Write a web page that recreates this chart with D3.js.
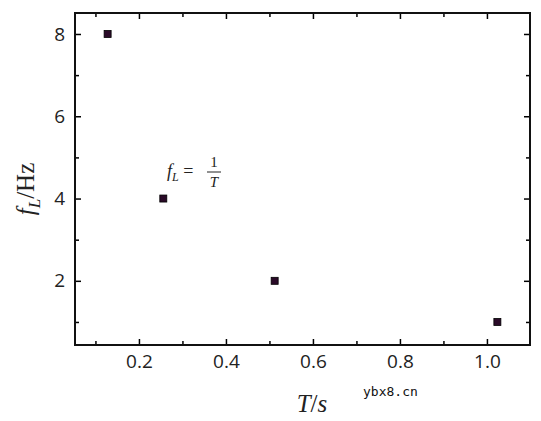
<!DOCTYPE html>
<html><head><meta charset="utf-8">
<script src="https://cdn.jsdelivr.net/npm/d3@7"></script>
<style>body{margin:0;background:#fff}</style>
</head><body>
<script>
// data
var periods = [0.128, 0.256, 0.512, 1.024];
var freqs = [8, 4, 2, 1];
var xTicks = [0.2, 0.4, 0.6, 0.8, 1.0];
var yTicks = [2, 4, 6, 8];
var xMinor = [0.1, 0.3, 0.5, 0.7, 0.9];
var yMinor = [1, 3, 5, 7];

var W = 541, H = 421;
var svg = d3.select("body").append("svg").attr("width", W).attr("height", H);
var pLeft = 75, pRight = 530, pTop = 13, pBottom = 345;

var x = d3.scaleLinear().domain([0.053, 1.099]).range([pLeft, pRight]);
var y = d3.scaleLinear().domain([0.44, 8.51]).range([pBottom, pTop]);

var tickFont = "'Open Sans', 'Noto Sans', sans-serif";

// axes with inward ticks
function axis(gen, ticks, fmt, tf, major) {
  var g = svg.append("g").attr("transform", tf).call(gen.tickValues(ticks).tickFormat(fmt)
    .tickSizeInner(major ? -6 : -4).tickSizeOuter(0).tickPadding(10));
  g.select(".domain").remove();
  g.selectAll("line").attr("stroke", "#000").attr("stroke-width", 1.5);
  g.selectAll("text").style("font-family", tickFont).style("font-size", "19px").attr("fill", "#222");
  return g;
}
axis(d3.axisBottom(x), xTicks, d3.format(".1f"), "translate(0," + pBottom + ")", true);
axis(d3.axisBottom(x), xMinor, "", "translate(0," + pBottom + ")", false);
axis(d3.axisTop(x), xTicks, "", "translate(0," + pTop + ")", true);
axis(d3.axisTop(x), xMinor, "", "translate(0," + pTop + ")", false);
axis(d3.axisLeft(y), yTicks, d3.format("d"), "translate(" + pLeft + ",0)", true);
axis(d3.axisLeft(y), yMinor, "", "translate(" + pLeft + ",0)", false);
axis(d3.axisRight(y), yTicks, "", "translate(" + pRight + ",0)", true);
axis(d3.axisRight(y), yMinor, "", "translate(" + pRight + ",0)", false);

svg.append("rect").attr("x", pLeft).attr("y", pTop).attr("width", pRight - pLeft).attr("height", pBottom - pTop)
  .attr("fill", "none").attr("stroke", "#111").attr("stroke-width", 2);

// fitted curve
var pts = periods.map(function(t, i){ return [t, freqs[i]]; });
svg.append("path").datum(pts)
  .attr("d", d3.line().x(function(d){ return x(d[0]); }).y(function(d){ return y(d[1]); }).curveMonotoneX)
  .attr("fill", "none").attr("stroke", "#8b0a7e").attr("stroke-width", 2.2);

svg.selectAll(".pt").data(pts).enter().append("rect")
  .attr("x", function(d){ return x(d[0]) - 3.5; })
  .attr("y", function(d){ return y(d[1]) - 3.5; })
  .attr("width", 7).attr("height", 7)
  .attr("fill", "#2a0a28").attr("stroke", "#000").attr("stroke-width", 0.8);

// formula
var serif = "'Liberation Serif', serif";
var ft = svg.append("text").attr("x", 167).attr("y", 177).style("font-family", serif).style("font-size", "18px").attr("fill", "#222");
ft.append("tspan").style("font-style", "italic").text("f");
ft.append("tspan").style("font-style", "italic").style("font-size", "12px").attr("dy", 4).text("L");
ft.append("tspan").attr("dy", -4).text(" = ");
svg.append("text").attr("x", 214).attr("y", 167).attr("text-anchor", "middle").style("font-family", serif).style("font-size", "15px").attr("fill", "#222").text("1");
svg.append("line").attr("x1", 207).attr("x2", 221).attr("y1", 172).attr("y2", 172).attr("stroke", "#222").attr("stroke-width", 1);
svg.append("text").attr("x", 214).attr("y", 187).attr("text-anchor", "middle").style("font-family", serif).style("font-style", "italic").style("font-size", "15px").attr("fill", "#222").text("T");

// axis labels
var xl = svg.append("text").attr("x", 312).attr("y", 412).attr("text-anchor", "middle")
  .style("font-family", serif).style("font-size", "25px").attr("fill", "#222");
xl.append("tspan").style("font-style", "italic").text("T");
xl.append("tspan").text("/");
xl.append("tspan").style("font-style", "italic").text("s");

var yl = svg.append("text").attr("transform", "translate(34," + ((pTop + pBottom) / 2 + 10) + ") rotate(-90)")
  .attr("text-anchor", "middle").style("font-family", serif).style("font-size", "25px").attr("fill", "#222");
yl.append("tspan").style("font-style", "italic").text("f");
yl.append("tspan").style("font-style", "italic").style("font-size", "17px").attr("dy", 6).text("L");
yl.append("tspan").attr("dy", -6).text("/Hz");

// watermark
svg.append("text").attr("x", 363).attr("y", 396).style("font-family", "'DejaVu Sans Mono', monospace")
  .style("font-size", "13px").attr("fill", "#111").text("ybx8.cn");
</script>
</body></html>
